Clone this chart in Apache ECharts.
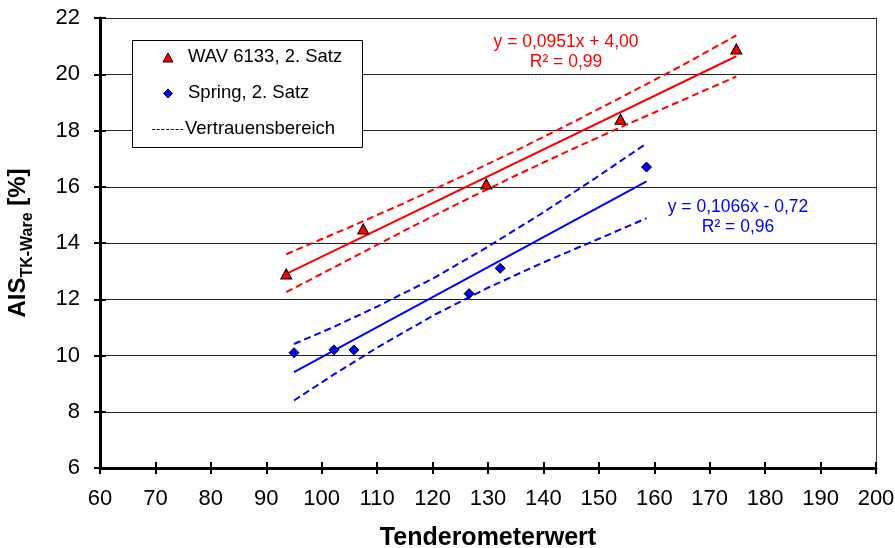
<!DOCTYPE html>
<html>
<head>
<meta charset="utf-8">
<script src="https://cdn.jsdelivr.net/npm/echarts@6/dist/echarts.min.js"></script>
<style>
html,body{margin:0;padding:0;background:#fff;}
#chart{width:895px;height:548px;}
</style>
</head>
<body>
<div id="chart"></div>
<script>
// ---- data ----
var wavPoints = [[93.6, 12.9], [107.5, 14.5], [129.7, 16.1], [153.9, 18.4], [174.8, 20.9]];
var springPoints = [[95.0, 10.1], [102.2, 10.2], [105.8, 10.2], [126.6, 12.2], [132.2, 13.1], [158.6, 16.7]];
var wavFit = [[93.6, 12.9], [174.8, 20.64]];
var springFit = [[95.0, 9.41], [158.6, 16.19]];
var wavUpper = [[93.6, 13.6], [105, 14.56], [115, 15.43], [125, 16.34], [135, 17.28], [145, 18.26], [155, 19.28], [165, 20.31], [174.8, 21.38]];
var wavLower = [[93.6, 12.25], [105, 13.42], [115, 14.45], [125, 15.44], [135, 16.40], [145, 17.32], [155, 18.21], [165, 19.07], [174.8, 19.92]];
var springUpper = [[95.0, 10.41], [102, 11.0], [110, 11.74], [120, 12.73], [130, 13.87], [140, 15.09], [150, 16.39], [158.6, 17.54]];
var springLower = [[95.0, 8.4], [102, 9.3], [110, 10.28], [120, 11.41], [130, 12.41], [140, 13.31], [150, 14.15], [158.6, 14.88]];
var wavLabel = ['y = 0,0951x + 4,00', 'R\u00b2 = 0,99'];
var springLabel = ['y = 0,1066x - 0,72', 'R\u00b2 = 0,96'];
var legendNames = ['WAV 6133, 2. Satz', 'Spring, 2. Satz', 'Vertrauensbereich'];

var FONT = 'Liberation Sans, Arial, sans-serif';
var chart = echarts.init(document.getElementById('chart'));

function lineSeries(data, color, dashed) {
  return {
    type: 'line', data: data, symbol: 'none', silent: true, z: 3,
    lineStyle: { color: color, width: 2, type: dashed ? [7, 4] : 'solid', opacity: 1 },
    animation: false
  };
}

var option = {
  animation: false,
  backgroundColor: '#fff',
  grid: { left: 100, right: 19, top: 18, bottom: 80, containLabel: false, outerBoundsMode: 'none' },
  xAxis: [{
    type: 'value', min: 60, max: 200, interval: 10,
    name: 'Tenderometerwert', nameLocation: 'middle', nameGap: 58,
    nameTextStyle: { fontFamily: FONT, fontSize: 25, fontWeight: 'bold', color: '#000' },
    axisLine: { show: true, onZero: false, lineStyle: { color: '#000', width: 3 } },
    axisTick: { show: true, inside: false, length: 6, lineStyle: { color: '#000', width: 2 } },
    axisLabel: { fontFamily: FONT, fontSize: 22, color: '#000', margin: 20 },
    splitLine: { show: false }
  }, {
    type: 'value', min: 60, max: 200, interval: 10, position: 'bottom',
    axisLine: { show: false },
    axisTick: { show: true, inside: true, length: 6, lineStyle: { color: '#000', width: 2 } },
    axisLabel: { show: false }, splitLine: { show: false }
  }],
  yAxis: [{
    type: 'value', min: 6, max: 22, interval: 2,
    name: '{a|AIS}{b|TK-Ware}{a| [%]}', nameLocation: 'middle', nameGap: 64, nameRotate: 90,
    nameTextStyle: {
      rich: {
        a: { fontFamily: FONT, fontSize: 24, fontWeight: 'bold', color: '#000', lineHeight: 30, verticalAlign: 'top' },
        b: { fontFamily: FONT, fontSize: 16, fontWeight: 'bold', color: '#000', lineHeight: 30, verticalAlign: 'bottom', padding: [12, 0, 0, 0] }
      }
    },
    axisLine: { show: true, onZero: false, lineStyle: { color: '#000', width: 3 } },
    axisTick: { show: true, inside: false, length: 6, lineStyle: { color: '#000', width: 2 } },
    axisLabel: { fontFamily: FONT, fontSize: 22, color: '#000', margin: 20 },
    splitLine: { show: true, lineStyle: { color: '#222', width: 1 } }
  }, {
    type: 'value', min: 6, max: 22, interval: 2, position: 'left',
    axisLine: { show: false },
    axisTick: { show: true, inside: true, length: 6, lineStyle: { color: '#000', width: 2 } },
    axisLabel: { show: false }, splitLine: { show: false }
  }, {
    type: 'value', min: 6, max: 22, interval: 2, position: 'right',
    axisLine: { show: true, lineStyle: { color: '#333', width: 1 } },
    axisTick: { show: false }, axisLabel: { show: false }, splitLine: { show: false }
  }],
  series: [
    lineSeries(wavUpper, '#ff0000', true),
    lineSeries(wavLower, '#ff0000', true),
    lineSeries(wavFit, '#ff0000', false),
    lineSeries(springUpper, '#0000ff', true),
    lineSeries(springLower, '#0000ff', true),
    lineSeries(springFit, '#0000ff', false),
    {
      name: legendNames[0], type: 'scatter', data: wavPoints, symbol: 'triangle', symbolSize: [11, 10], z: 5,
      itemStyle: { color: '#ff0000', borderColor: '#000', borderWidth: 1, opacity: 1 }
    },
    {
      name: legendNames[1], type: 'scatter', data: springPoints, symbol: 'diamond', symbolSize: [10, 10], z: 5,
      itemStyle: { color: '#0000ff', borderColor: '#000', borderWidth: 1, opacity: 1 }
    }
  ],
  graphic: [
    // legend box
    { type: 'rect', left: 132, top: 40, shape: { width: 230, height: 107 }, style: { fill: '#fff', stroke: '#000', lineWidth: 1 }, z: 10 },
    { type: 'polygon', shape: { points: [[168, 53], [173, 62], [163, 62]] }, style: { fill: '#ff0000', stroke: '#000', lineWidth: 1 }, z: 11 },
    { type: 'text', x: 188, y: 57, style: { text: legendNames[0], font: '18.5px ' + FONT, fill: '#000', verticalAlign: 'middle' }, z: 11 },
    { type: 'polygon', shape: { points: [[168, 89], [172.5, 93.5], [168, 98], [163.5, 93.5]] }, style: { fill: '#0000ff', stroke: '#000', lineWidth: 1 }, z: 11 },
    { type: 'text', x: 188, y: 93, style: { text: legendNames[1], font: '18.5px ' + FONT, fill: '#000', verticalAlign: 'middle' }, z: 11 },
    { type: 'line', shape: { x1: 152, y1: 129.5, x2: 185, y2: 129.5 }, style: { stroke: '#000', lineWidth: 1, lineDash: [3, 1.7] }, z: 11 },
    { type: 'text', x: 185, y: 129, style: { text: legendNames[2], font: '18.5px ' + FONT, fill: '#000', verticalAlign: 'middle' }, z: 11 },
    // regression equations
    { type: 'text', x: 566, y: 42, style: { text: wavLabel[0], font: '17.5px ' + FONT, fill: '#ff0000', align: 'center', verticalAlign: 'middle' }, z: 11 },
    { type: 'text', x: 566, y: 62, style: { text: wavLabel[1], font: '17.5px ' + FONT, fill: '#ff0000', align: 'center', verticalAlign: 'middle' }, z: 11 },
    { type: 'text', x: 738, y: 207, style: { text: springLabel[0], font: '17.5px ' + FONT, fill: '#0000ff', align: 'center', verticalAlign: 'middle' }, z: 11 },
    { type: 'text', x: 738, y: 227, style: { text: springLabel[1], font: '17.5px ' + FONT, fill: '#0000ff', align: 'center', verticalAlign: 'middle' }, z: 11 }
  ]
};
chart.setOption(option);
</script>
</body>
</html>
